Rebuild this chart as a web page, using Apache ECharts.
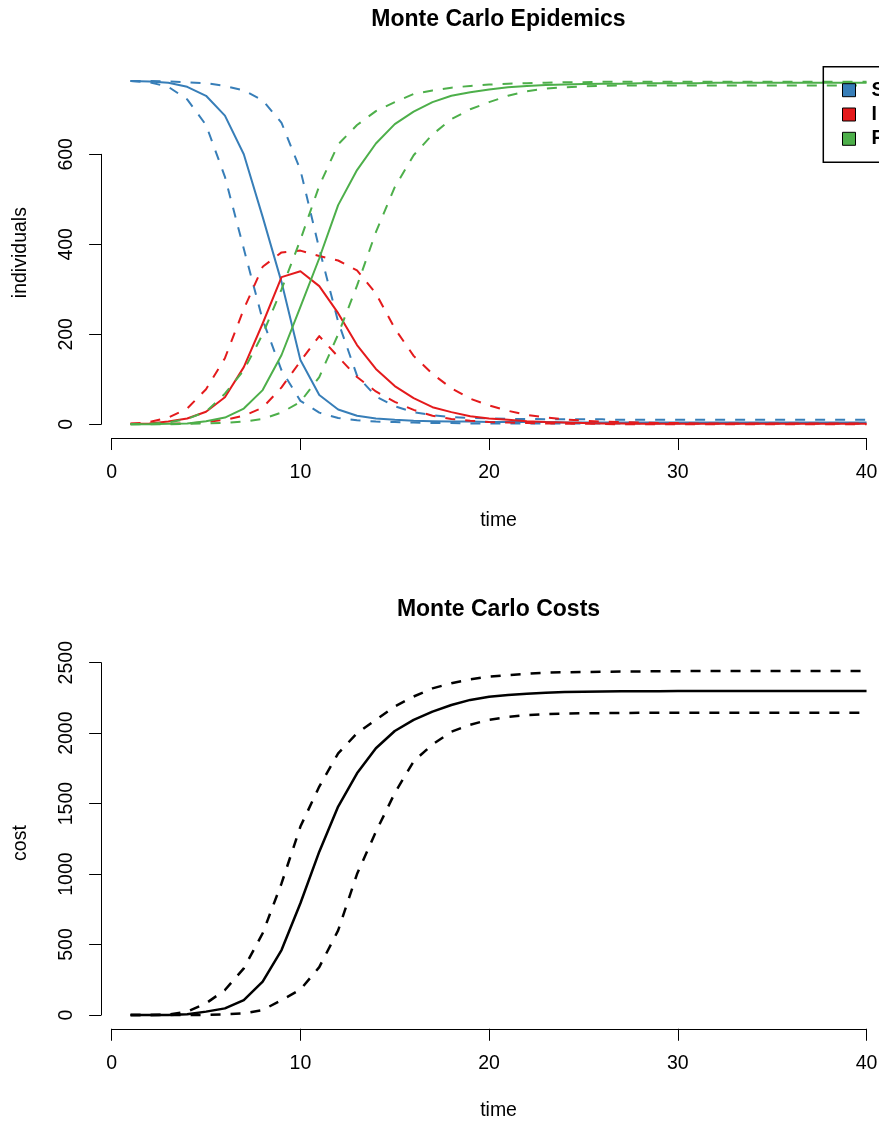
<!DOCTYPE html>
<html><head><meta charset="utf-8">
<script src="https://cdn.jsdelivr.net/npm/echarts@6/dist/echarts.min.js"></script>
<style>html,body{margin:0;padding:0;background:#fff}#c{width:879px;height:1122px}</style>
</head><body><div id="c"></div>
<script>
const time = [1,2,3,4,5,6,7,8,9,10,11,12,13,14,15,16,17,18,19,20,21,22,23,24,25,26,27,28,29,30,31,32,33,34,35,36,37,38,39,40];

const S_median = [763,762,759,750,730,686,600,461,316,143,65,33,19,13,10,8,7,6,6,5,5,5,5,4,4,4,4,4,4,4,4,4,4,4,4,4,4,4,4,4];
const S_upper  = [763,763,762,760,758,752,742,720,670,565,390,228,108,62,40,27,20,16,14,13,12,12,11,11,11,11,10,10,10,10,10,10,10,10,10,10,10,10,10,10];
const S_lower  = [763,760,750,722,665,550,390,232,120,52,26,14,9,6,5,4,3,3,2,2,2,2,2,2,2,2,2,2,2,2,2,2,2,2,2,2,2,2,2,2];

const I_median = [1,2,6,13,28,60,127,224,327,340,307,247,176,123,85,58,38,27,18,13,10,7,5,4,3,2,2,1,1,1,1,1,1,1,1,1,1,1,1,1];
const I_upper  = [1,5,15,35,78,147,256,350,382,386,374,364,342,291,213,152,112,80,57,42,30,21,15,11,8,6,5,4,3,3,2,2,2,2,2,2,2,2,2,2];
const I_lower  = [1,1,1,2,5,10,19,37,82,140,196,150,105,73,50,32,19,12,8,5,4,3,2,1,1,1,0,0,0,0,0,0,0,0,0,0,0,0,0,0];

const R_median = [0,0,1,2,7,15,35,76,154,261,369,487,565,624,667,695,716,730,738,744,749,752,754,755,756,757,757,758,758,758,758,759,759,759,759,759,759,759,759,759];
const R_upper  = [0,1,4,12,28,68,120,200,300,410,530,622,665,696,716,734,742,748,752,755,757,758,759,760,760,761,761,761,761,761,761,761,761,761,761,761,761,761,761,761];
const R_lower  = [0,0,0,1,2,3,6,12,26,50,105,200,308,427,527,598,644,678,700,716,730,740,746,749,751,752,753,753,753,753,753,753,753,753,753,753,753,753,753,753];

const cost_median = [0,0,0,5,24,47,106,237,461,793,1159,1479,1715,1893,2015,2094,2153,2200,2236,2259,2271,2280,2287,2292,2294,2296,2297,2298,2298,2299,2299,2299,2299,2299,2299,2299,2299,2299,2299,2299];
const cost_upper  = [0,0,2,24,83,177,331,580,934,1337,1621,1857,1999,2095,2190,2260,2318,2354,2382,2401,2412,2422,2429,2432,2434,2436,2437,2438,2439,2440,2441,2441,2441,2441,2441,2441,2441,2441,2441,2441];
const cost_lower  = [0,0,0,0,1,5,12,35,106,180,340,600,1000,1300,1575,1800,1920,2010,2060,2095,2115,2128,2135,2139,2141,2142,2143,2144,2144,2144,2144,2144,2144,2144,2144,2144,2144,2144,2144,2144];

const timeTicks = [0,10,20,30,40];
const individualsTicks = [0,200,400,600];
const costTicks = [0,500,1000,1500,2000,2500];
const compartments = ['S','I','R'];
const compartmentColors = ['#377EB8','#E41A1C','#4DAF4A'];

const FONT = '"Liberation Sans", Arial, Helvetica, sans-serif';
const FS = 19.5;

const chart = echarts.init(document.getElementById('c'), null, {renderer:'canvas'});

// layout (pixels)
const plotL = 101.13, plotW = 794.84;
const topT = 67.22, topH = 370.81;
const botT = 657.26, botH = 371.49;
const tickL = 111.7, tickW = 754.8;

function zip(arr){ return time.map((t,i)=>[t,arr[i]]); }
const step = a => a[1]-a[0];

const hidden = {show:true, axisLine:{show:false}, axisTick:{show:false}, axisLabel:{show:false}, splitLine:{show:false}};
const nameStyle = {color:'#000', fontSize:FS, fontFamily:FONT};
const axLine = {show:true, onZero:false, lineStyle:{color:'#000', width:1}};
const axTick = {show:true, inside:false, length:12, lineStyle:{color:'#000', width:1}};
const axLab = {show:true, color:'#000', fontSize:FS, fontFamily:FONT, margin:25, formatter:v=>String(v)};

const g = (o)=>Object.assign({outerBoundsMode:'none', containLabel:false}, o);
const grid = [
  g({left:plotL, width:plotW, top:topT, height:topH}),
  g({left:tickL, width:tickW, top:topT, height:topH}),
  g({left:plotL, width:10, top:424.30-270.0, height:270.0}),
  g({left:plotL, width:plotW, top:botT, height:botH}),
  g({left:tickL, width:tickW, top:botT, height:botH}),
  g({left:plotL, width:10, top:662.7, height:352.3})
];

const xAxis = [
  Object.assign({type:'value', gridIndex:0, min:-0.56, max:41.56, name:'time', nameLocation:'middle', nameGap:73, nameTextStyle:nameStyle}, hidden),
  {type:'value', gridIndex:1, min:timeTicks[0], max:timeTicks[timeTicks.length-1], interval:step(timeTicks), position:'bottom', axisLine:axLine, axisTick:axTick, axisLabel:axLab, splitLine:{show:false}},
  {type:'value', gridIndex:2, min:0, max:1, show:false},
  Object.assign({type:'value', gridIndex:3, min:-0.56, max:41.56, name:'time', nameLocation:'middle', nameGap:72, nameTextStyle:nameStyle}, hidden),
  {type:'value', gridIndex:4, min:timeTicks[0], max:timeTicks[timeTicks.length-1], interval:step(timeTicks), position:'bottom', axisLine:axLine, axisTick:axTick, axisLabel:axLab, splitLine:{show:false}},
  {type:'value', gridIndex:5, min:0, max:1, show:false}
];
const yAxis = [
  Object.assign({type:'value', gridIndex:0, min:-30.52, max:793.52, name:'individuals', nameLocation:'middle', nameGap:71, nameTextStyle:nameStyle}, hidden),
  {type:'value', gridIndex:1, min:0, max:1, show:false},
  {type:'value', gridIndex:2, min:individualsTicks[0], max:individualsTicks[individualsTicks.length-1], interval:step(individualsTicks), position:'left', axisLine:axLine, axisTick:axTick, axisLabel:Object.assign({rotate:90}, axLab), splitLine:{show:false}},
  Object.assign({type:'value', gridIndex:3, min:-97.6, max:2538.6, name:'cost', nameLocation:'middle', nameGap:71, nameTextStyle:nameStyle}, hidden),
  {type:'value', gridIndex:4, min:0, max:1, show:false},
  {type:'value', gridIndex:5, min:costTicks[0], max:costTicks[costTicks.length-1], interval:step(costTicks), position:'left', axisLine:axLine, axisTick:axTick, axisLabel:Object.assign({rotate:90}, axLab), splitLine:{show:false}}
];

function line(name, arr, color, dashed, width, axisIdx){
  return {
    type:'line', name, data:zip(arr), xAxisIndex:axisIdx, yAxisIndex:axisIdx,
    showSymbol:false, symbol:'none', silent:true, animation:false, clip:false,
    itemStyle:{color},
    lineStyle:{color, width, type: dashed ? [10,10] : 'solid', cap:'butt', join:'round'}
  };
}

const epi = [
  [S_median, S_lower, S_upper],
  [I_median, I_lower, I_upper],
  [R_median, R_lower, R_upper]
];
const series = [];
compartments.forEach((c,k)=>{
  const col = compartmentColors[k];
  series.push(line(c, epi[k][0], col, false, 2, 0));
  series.push(line(c+' lower', epi[k][1], col, true, 2, 0));
  series.push(line(c+' upper', epi[k][2], col, true, 2, 0));
});
series.push(line('cost', cost_median, '#000', false, 2.5, 3));
series.push(line('cost lower', cost_lower, '#000', true, 2.5, 3));
series.push(line('cost upper', cost_upper, '#000', true, 2.5, 3));

chart.setOption({
  animation:false,
  backgroundColor:'#fff',
  title:[
    {text:'Monte Carlo Epidemics', left:498.5, top:8.5, textAlign:'center', padding:0, textStyle:{fontSize:23, fontWeight:'bold', fontFamily:FONT, color:'#000'}},
    {text:'Monte Carlo Costs', left:498.5, top:598, textAlign:'center', padding:0, textStyle:{fontSize:23, fontWeight:'bold', fontFamily:FONT, color:'#000'}}
  ],
  legend:{
    orient:'vertical', left:823.3, top:66.7, outerBoundsMode:'none',
    data:compartments, icon:'rect', itemWidth:13, itemHeight:13, itemGap:4.3,
    padding:[13.5, 20, 13.4, 18.7],
    borderColor:'#000', borderWidth:1.5,
    itemStyle:{borderColor:'#000', borderWidth:1},
    textStyle:{fontSize:FS, fontFamily:FONT, color:'#000', fontWeight:'bold', padding:[0,0,0,11]},
    selectedMode:false
  },
  grid, xAxis, yAxis, series
});
</script></body></html>
